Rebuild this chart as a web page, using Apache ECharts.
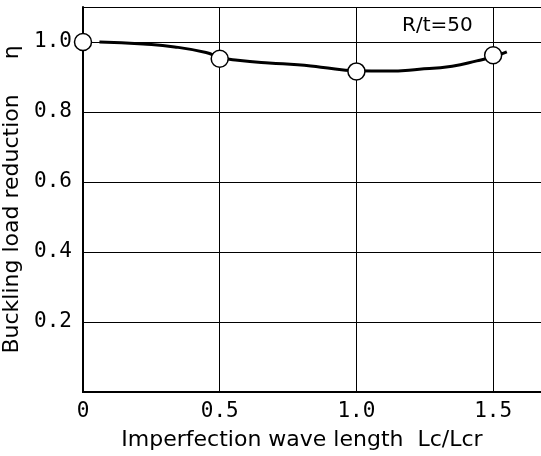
<!DOCTYPE html>
<html>
<head>
<meta charset="utf-8">
<script src="https://cdn.jsdelivr.net/npm/echarts@6/dist/echarts.min.js"></script>
<style>
html,body{margin:0;padding:0;background:#fff;overflow:hidden;}
#chart{width:541px;height:456px;}
</style>
</head>
<body>
<div id="chart"></div>
<script>
// Measured points (open circles)
const pointX = [0.0, 0.5, 1.0, 1.5];
const pointY = [1.0, 0.952, 0.916, 0.962];
// Fitted curve
const curveX = [0.06, 0.22, 0.335, 0.45, 0.5, 0.566, 0.68, 0.785, 0.87, 1.0, 1.11, 1.23, 1.35, 1.44, 1.5, 1.55];
const curveY = [1.0, 0.994, 0.986, 0.97, 0.956, 0.948, 0.94, 0.935, 0.928, 0.918, 0.917, 0.922, 0.931, 0.946, 0.958, 0.972];
const xTicks = [0, 0.5, 1.0, 1.5];
const yTicks = [0.2, 0.4, 0.6, 0.8, 1.0];
const xName = 'Imperfection wave length  Lc/Lcr';
const yName = 'Buckling load reduction     η';
const annotation = 'R/t=50';

const chart = echarts.init(document.getElementById('chart'), null, {renderer: 'canvas'});
const labelFont = 'DejaVu Sans Mono';
const nameFont = 'DejaVu Sans';
function near(v, arr) { return arr.some(t => Math.abs(t - v) < 1e-6); }

chart.setOption({
  animation: false,
  backgroundColor: '#fff',
  grid: {left: 83, right: 0, top: 7, bottom: 64, containLabel: false, outerBoundsMode: 'none'},
  xAxis: [{
    type: 'value', min: 0, max: 1.675, interval: 0.5,
    name: xName, nameLocation: 'middle', nameGap: 37,
    nameTextStyle: {fontFamily: nameFont, fontSize: 22, color: '#000', padding: [0, 20, 0, 0]},
    axisLine: {show: true, onZero: false, lineStyle: {color: '#000', width: 2}},
    axisTick: {show: false},
    axisLabel: {
      margin: 9, fontFamily: labelFont, fontSize: 21, color: '#000',
      formatter: v => near(v, xTicks) ? (v === 0 ? '0' : v.toFixed(1)) : ''
    },
    splitLine: {show: true, lineStyle: {color: '#000', width: 1}}
  }, {
    type: 'value', position: 'top', min: 0, max: 1.675,
    axisLine: {show: true, lineStyle: {color: '#000', width: 2}},
    axisTick: {show: false}, axisLabel: {show: false}, splitLine: {show: false}
  }],
  yAxis: {
    type: 'value', min: 0, max: 1.1, interval: 0.2,
    name: yName, nameLocation: 'middle', nameGap: 55,
    nameTextStyle: {fontFamily: nameFont, fontSize: 22, color: '#000'},
    axisLine: {show: true, onZero: false, lineStyle: {color: '#000', width: 2}},
    axisTick: {show: false},
    axisLabel: {
      margin: 11, fontFamily: labelFont, fontSize: 21, color: '#000',
      formatter: v => near(v, yTicks) ? v.toFixed(1) : ''
    },
    splitLine: {show: true, lineStyle: {color: '#000', width: 1}}
  },
  graphic: [{
    type: 'text', left: 402, top: 16,
    style: {text: annotation, font: '20px "DejaVu Sans"', fill: '#000'}
  }],
  series: [{
    type: 'line', smooth: 0.5, symbol: 'none',
    data: curveX.map((x, i) => [x, curveY[i]]),
    lineStyle: {color: '#000', width: 3}, z: 2
  }, {
    type: 'scatter', symbol: 'circle', symbolSize: 17,
    data: pointX.map((x, i) => [x, pointY[i]]),
    itemStyle: {color: '#fff', borderColor: '#000', borderWidth: 1.5, opacity: 1}, z: 3
  }]
});
</script>
</body>
</html>
